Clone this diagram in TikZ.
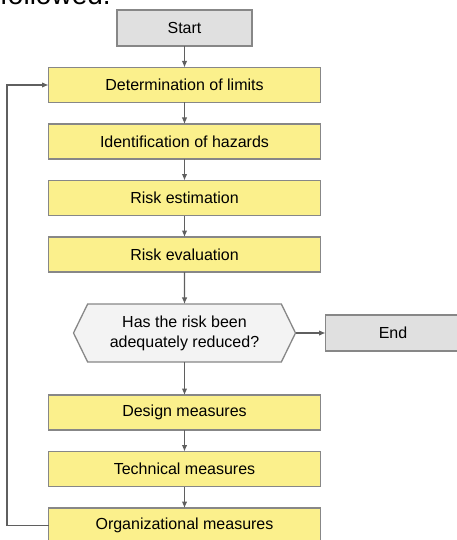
\documentclass[tikz,border=0pt]{standalone}
\usepackage{fontspec}
\setmainfont{Liberation Sans}
\usetikzlibrary{arrows.meta,positioning,shapes.symbols}
\definecolor{boxyellow}{RGB}{251,240,140}
\definecolor{boxgray}{RGB}{224,224,224}
\definecolor{hexgray}{RGB}{243,243,243}
\definecolor{framegray}{RGB}{135,135,135}
\definecolor{linegray}{RGB}{95,95,95}
\tikzset{
    %Define style for step boxes
    stepbox/.style={
           rectangle,
           draw=framegray, line width=1.3pt,
           fill=boxyellow,
           minimum height=35pt,
           minimum width=272pt,
           inner sep=0pt, outer sep=0pt,
           text centered,
           font=\fontsize{16}{20}\selectfont},
    termbox/.style={
           stepbox,
           fill=boxgray,
           minimum width=135pt,
           minimum height=36pt},
    decisionbox/.style={
           stepbox,
           signal, signal to=west and east, signal pointer angle=128,
           fill=hexgray,
           minimum width=222pt,
           minimum height=58pt,
           align=center},
    flow/.style={draw=linegray, line width=1.1pt, -{Latex[length=6.5pt,width=5.5pt]}}
}

\begin{document}
\begin{tikzpicture}[x=1pt, y=1pt, node distance=21.5pt]
\useasboundingbox (0,0) rectangle (456,-540);
\node[anchor=base west, inner sep=0pt, font=\fontsize{28}{30}\selectfont] (followed) at (0,-5) {followed.};
\node[termbox] (start) at (184.5,-28) {Start};
\node[stepbox, below=of start] (limits) {Determination of limits};
\node[stepbox, below=of limits] (hazards) {Identification of hazards};
\node[stepbox, below=of hazards] (estim) {Risk estimation};
\node[stepbox, below=of estim] (evalu) {Risk evaluation};
\node[decisionbox, below=32pt of evalu] (reduced) {Has the risk been\\adequately reduced?};
\node[termbox, right=30pt of reduced] (endbox) {End};
\node[stepbox, below=33pt of reduced] (design) {Design measures};
\node[stepbox, below=of design] (technical) {Technical measures};
\node[stepbox, below=of technical] (organiz) {Organizational measures};
\draw[flow] (start) -- (limits);
\draw[flow] (limits) -- (hazards);
\draw[flow] (hazards) -- (estim);
\draw[flow] (estim) -- (evalu);
\draw[flow] (evalu) -- (reduced);
\draw[flow] (reduced) -- (endbox);
\draw[flow] (reduced) -- (design);
\draw[flow] (design) -- (technical);
\draw[flow] (technical) -- (organiz);
\draw[flow] (organiz.west) -- ++(-41.5,0) |- (limits.west);
\end{tikzpicture}
\end{document}
